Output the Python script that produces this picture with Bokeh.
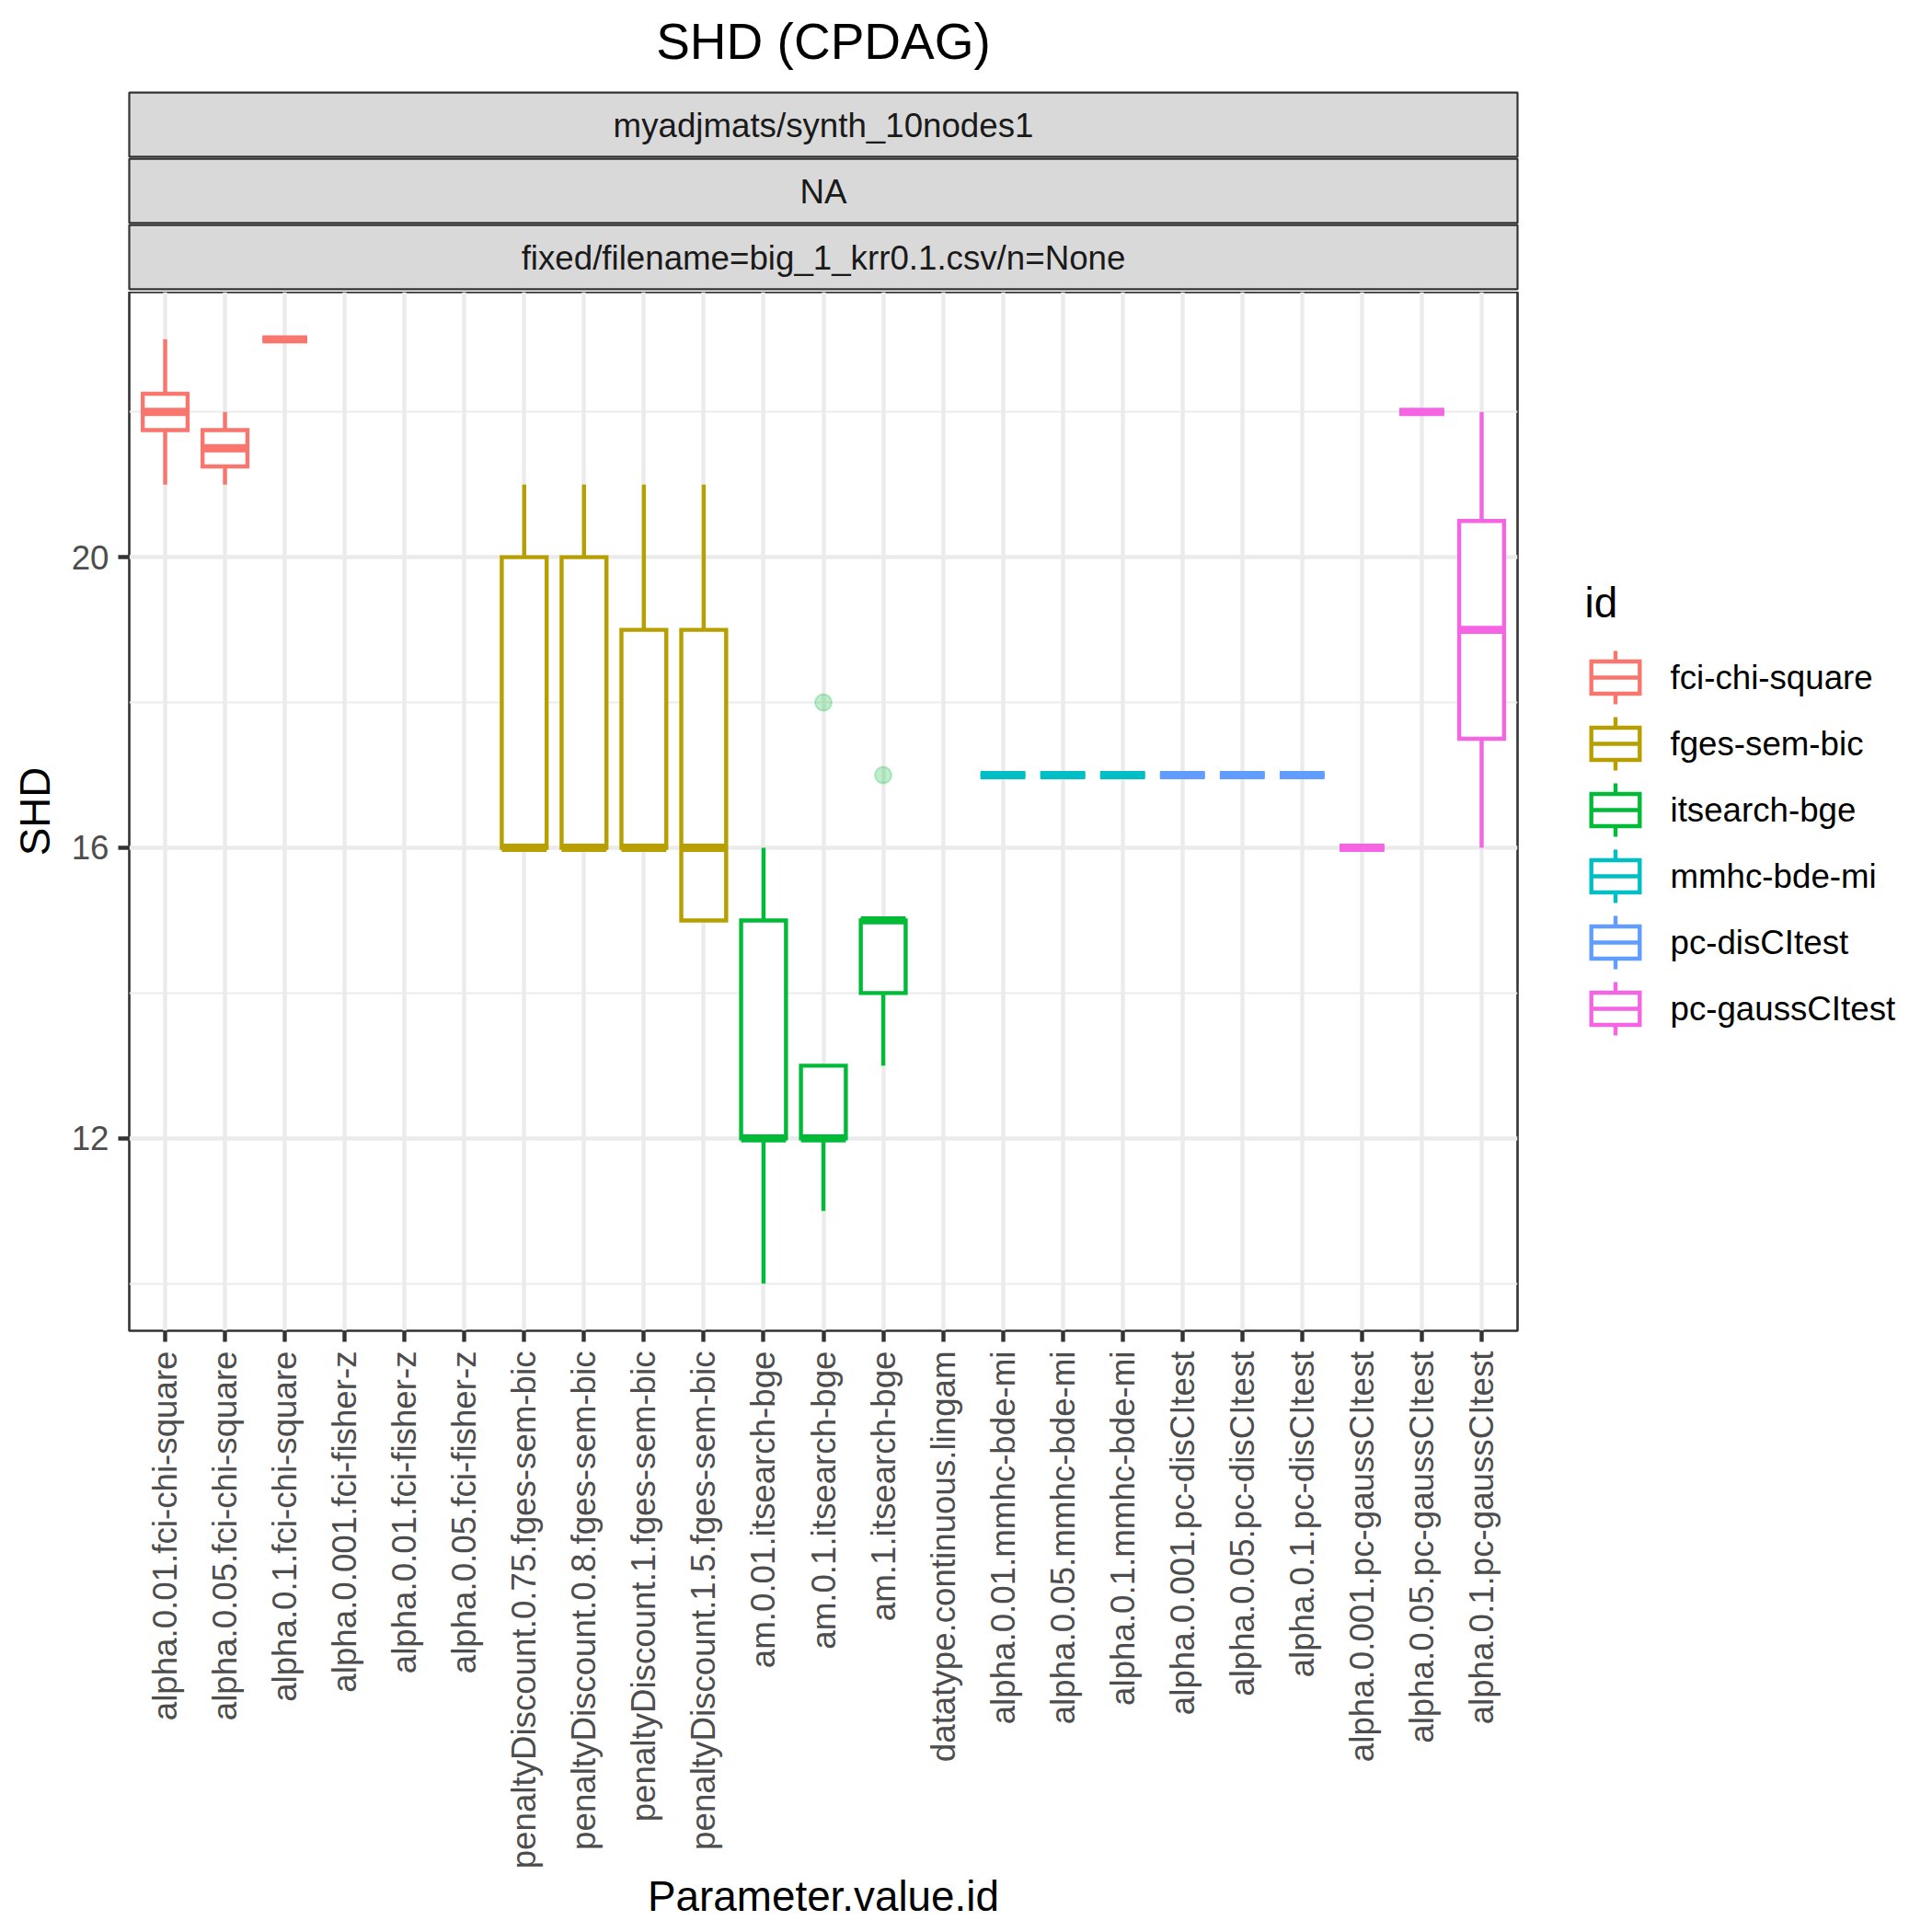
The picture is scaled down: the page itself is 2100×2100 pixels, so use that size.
import math
from bokeh.plotting import figure
from bokeh.models import Range1d, FixedTicker, ColumnDataSource
from bokeh.layouts import column, row
from bokeh.core.properties import value
from bokeh.embed import file_html
from bokeh.resources import INLINE

# ---------------- data ----------------
categories = [
    "alpha.0.01.fci-chi-square", "alpha.0.05.fci-chi-square", "alpha.0.1.fci-chi-square",
    "alpha.0.001.fci-fisher-z", "alpha.0.01.fci-fisher-z", "alpha.0.05.fci-fisher-z",
    "penaltyDiscount.0.75.fges-sem-bic", "penaltyDiscount.0.8.fges-sem-bic",
    "penaltyDiscount.1.fges-sem-bic", "penaltyDiscount.1.5.fges-sem-bic",
    "am.0.01.itsearch-bge", "am.0.1.itsearch-bge", "am.1.itsearch-bge",
    "datatype.continuous.lingam",
    "alpha.0.01.mmhc-bde-mi", "alpha.0.05.mmhc-bde-mi", "alpha.0.1.mmhc-bde-mi",
    "alpha.0.001.pc-disCItest", "alpha.0.05.pc-disCItest", "alpha.0.1.pc-disCItest",
    "alpha.0.001.pc-gaussCItest", "alpha.0.05.pc-gaussCItest", "alpha.0.1.pc-gaussCItest",
]
group_of = [
    "fci-chi-square", "fci-chi-square", "fci-chi-square",
    "fci-fisher-z", "fci-fisher-z", "fci-fisher-z",
    "fges-sem-bic", "fges-sem-bic", "fges-sem-bic", "fges-sem-bic",
    "itsearch-bge", "itsearch-bge", "itsearch-bge",
    "lingam",
    "mmhc-bde-mi", "mmhc-bde-mi", "mmhc-bde-mi",
    "pc-disCItest", "pc-disCItest", "pc-disCItest",
    "pc-gaussCItest", "pc-gaussCItest", "pc-gaussCItest",
]
NA = float("nan")
whisker_low = [21, 21, 23, NA, NA, NA, 16, 16, 16, 15, 10, 11, 13, NA, 17, 17, 17, 17, 17, 17, 16, 22, 16]
q1_vals     = [21.75, 21.25, 23, NA, NA, NA, 16, 16, 16, 15, 12, 12, 14, NA, 17, 17, 17, 17, 17, 17, 16, 22, 17.5]
median_vals = [22, 21.5, 23, NA, NA, NA, 16, 16, 16, 16, 12, 12, 15, NA, 17, 17, 17, 17, 17, 17, 16, 22, 19]
q3_vals     = [22.25, 21.75, 23, NA, NA, NA, 20, 20, 19, 19, 15, 13, 15, NA, 17, 17, 17, 17, 17, 17, 16, 22, 20.5]
whisker_high = [23, 22, 23, NA, NA, NA, 21, 21, 21, 21, 16, 13, 15, NA, 17, 17, 17, 17, 17, 17, 16, 22, 22]

outlier_cats = ["am.0.1.itsearch-bge", "am.1.itsearch-bge"]
outlier_vals = [18, 17]

legend_ids = ["fci-chi-square", "fges-sem-bic", "itsearch-bge", "mmhc-bde-mi", "pc-disCItest", "pc-gaussCItest"]
legend_colors = ["#F8766D", "#B79F00", "#00BA38", "#00BFC4", "#619CFF", "#F564E3"]

y_ticks = [12, 16, 20]
y_minor = [10, 14, 18, 22]

title_text = "SHD (CPDAG)"
strip_texts = ["myadjmats/synth_10nodes1", "NA", "fixed/filename=big_1_krr0.1.csv/n=None"]
x_title = "Parameter.value.id"
y_title = "SHD"
legend_title = "id"

# ---------------- layout constants (page px) ----------------
FONT = "Liberation Sans"
W = H = 2100
TOP_H = 317                 # title + strip band = frame top
MAIN_W = 1700
LEG_W = W - MAIN_W
FL, FR = 140, 1649          # frame left/right
FB = 1446                   # frame bottom
LW = 4.4
BOXW = 0.75
GRID = "#EBEBEB"
DARK = "#333333"
color_of = dict(zip(legend_ids, legend_colors))


def blank(width, height, xr, yr):
    f = figure(width=width, height=height, x_range=xr, y_range=yr, output_backend="svg",
               toolbar_location=None, x_axis_type=None, y_axis_type=None, title=None,
               min_border=0, min_border_left=0, min_border_right=0, min_border_top=0, min_border_bottom=0)
    f.grid.visible = False
    f.outline_line_color = None
    f.background_fill_color = "white"
    f.border_fill_color = "white"
    return f


# ---------------- top band: title + strips ----------------
top = blank(W, TOP_H, Range1d(0, W), Range1d(TOP_H, 0))
cx = (FL + FR) / 2
STRIP_H = 72
strip_top = [99 + STRIP_H * k for k in range(len(strip_texts))]
top.quad(left=FL, right=FR, top=[t + 1.1 for t in strip_top], bottom=[t + STRIP_H - 1.1 for t in strip_top],
         fill_color="#D9D9D9", line_color=DARK, line_width=2.2)
top.text(x=[cx] * len(strip_texts), y=[t + STRIP_H / 2 + 1 for t in strip_top], text=strip_texts,
         text_font=value(FONT), text_font_size=value("36.7px"), text_color="#1A1A1A",
         text_align="center", text_baseline="middle")
top.text(x=[cx], y=[44], text=[title_text], text_font=value(FONT), text_font_size=value("55px"),
         text_color="black", text_align="center", text_baseline="middle")

# ---------------- main panel ----------------
p = figure(width=MAIN_W, height=H - TOP_H, output_backend="svg", toolbar_location=None, title=None,
           x_range=Range1d(0.4, len(categories) + 0.6), y_range=Range1d(9.35, 23.65),
           min_border_left=FL, min_border_right=MAIN_W - FR, min_border_top=0,
           min_border_bottom=H - FB)
p.background_fill_color = "white"
p.border_fill_color = "white"
p.outline_line_color = DARK
p.outline_line_width = 2.6

p.xgrid.grid_line_color = GRID
p.xgrid.grid_line_width = LW
p.ygrid.grid_line_color = GRID
p.ygrid.grid_line_width = LW
p.ygrid.minor_grid_line_color = GRID
p.ygrid.minor_grid_line_width = LW / 2

p.xaxis.ticker = FixedTicker(ticks=list(range(1, len(categories) + 1)))
p.xaxis.major_label_overrides = {i + 1: c for i, c in enumerate(categories)}
p.xaxis.major_label_orientation = math.pi / 2
p.yaxis.ticker = FixedTicker(ticks=y_ticks, minor_ticks=y_minor)
for ax in (p.xaxis[0], p.yaxis[0]):
    ax.axis_line_color = None
    ax.major_tick_line_color = DARK
    ax.major_tick_line_width = LW
    ax.major_tick_out = 12
    ax.major_tick_in = 0
    ax.minor_tick_line_color = None
    ax.major_label_text_font = FONT
    ax.major_label_text_font_size = "36.7px"
    ax.major_label_text_color = "#4D4D4D"
    ax.major_label_standoff = 10
    ax.axis_label_text_font = FONT
    ax.axis_label_text_font_size = "45.8px"
    ax.axis_label_text_font_style = "normal"
    ax.axis_label_text_color = "black"
p.yaxis.axis_label = y_title
p.yaxis.axis_label_standoff = 11
p.xaxis.axis_label = x_title
p.xaxis.axis_label_standoff = 2

rows = [i for i in range(len(categories)) if not math.isnan(median_vals[i])]
src = ColumnDataSource(dict(
    x=[i + 1 for i in rows],
    left=[i + 1 - BOXW / 2 for i in rows],
    right=[i + 1 + BOXW / 2 for i in rows],
    lo=[whisker_low[i] for i in rows],
    q1=[q1_vals[i] for i in rows],
    med=[median_vals[i] for i in rows],
    q3=[q3_vals[i] for i in rows],
    hi=[whisker_high[i] for i in rows],
    color=[color_of[group_of[i]] for i in rows],
))
p.segment(x0="x", y0="q3", x1="x", y1="hi", source=src, line_color="color", line_width=LW)
p.segment(x0="x", y0="lo", x1="x", y1="q1", source=src, line_color="color", line_width=LW)
p.quad(left="left", right="right", bottom="q1", top="q3", source=src,
       fill_color="white", line_color="color", line_width=LW, line_join="miter")
p.segment(x0="left", y0="med", x1="right", y1="med", source=src, line_color="color", line_width=2 * LW)

ox = [categories.index(c) + 1 for c in outlier_cats]
ocol = [color_of[group_of[categories.index(c)]] for c in outlier_cats]
p.scatter(x=ox, y=outlier_vals, size=18, marker="circle", fill_color=ocol, line_color=ocol,
          fill_alpha=0.25, line_alpha=0.25, line_width=2)

# ---------------- legend panel (its frame is aligned with the main frame; page px, y down) ----------------
leg = blank(LEG_W, H - TOP_H, Range1d(MAIN_W, W), Range1d(FB, TOP_H))
key_cx = 1755.5
key_cy = [736 + 72 * k for k in range(len(legend_ids))]
n = len(legend_ids)
leg.segment(x0=[key_cx] * n, x1=[key_cx] * n, y0=[c - 29 for c in key_cy], y1=[c - 17.5 for c in key_cy],
            line_color=legend_colors, line_width=LW)
leg.segment(x0=[key_cx] * n, x1=[key_cx] * n, y0=[c + 17.5 for c in key_cy], y1=[c + 29 for c in key_cy],
            line_color=legend_colors, line_width=LW)
leg.quad(left=key_cx - 26.3, right=key_cx + 26.3, top=[c - 17.5 for c in key_cy], bottom=[c + 17.5 for c in key_cy],
         fill_color="white", line_color=legend_colors, line_width=LW, line_join="miter")
leg.segment(x0=[key_cx - 26.3] * n, x1=[key_cx + 26.3] * n, y0=key_cy, y1=key_cy,
            line_color=legend_colors, line_width=LW)
leg.text(x=[1815] * n, y=key_cy, text=legend_ids, text_font=value(FONT),
         text_font_size=value("36.7px"), text_color="black", text_align="left", text_baseline="middle")
leg.text(x=[1722], y=[655], text=[legend_title], text_font=value(FONT), text_font_size=value("45.8px"),
         text_color="black", text_align="left", text_baseline="middle")

layout = column(top, row(p, leg))
open("out.html", "w").write(file_html(layout, INLINE))
